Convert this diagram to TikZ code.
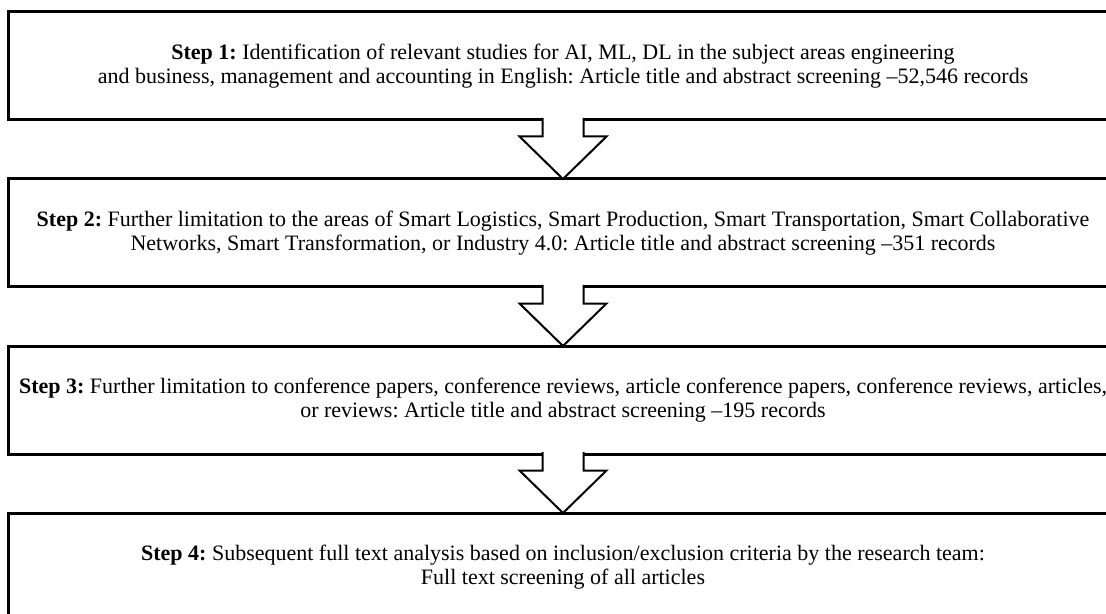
\documentclass[tikz,border=0pt]{standalone}
\usepackage{fontspec}
\setmainfont{Liberation Serif}
\usetikzlibrary{positioning, calc}
\tikzset{
	node distance=28pt,
	every text node part/.style= {
		align=center
	},
	stepbox/.style= {
		rectangle,
		black,
		draw,
		line width=1.5pt,
		minimum width=555pt,
		minimum height=54pt,
		inner sep=0pt,
		font=\fontsize{11}{11.8}\selectfont\frenchspacing
	},
	downarrow/.style= {
		black,
		draw,
		fill=white,
		line width=1pt,
		line join=miter
	}
}
% block arrow from the bottom of #1 to the top of #2
\newcommand{\stepArrow}[2]{%
	\draw[downarrow] ($(#1.south)+(-20.5,-3.5)$) -- ++(0,18.5) -- ++(-23,0)
		-- ($(#2.north)+(0,1.5)$) -- ($(#1.south)+(43.5,15)$) -- ++(-23,0)
		-- ($(#1.south)+(20.5,-3.5)$);
}

\begin{document}
\begin{tikzpicture}[x=0.5pt, y=-0.5pt]

	\clip (0,0) rectangle (1106,614);

	\node (step1)[stepbox] at (563,66) {\textbf{Step 1:} Identification of relevant studies for AI, ML, DL in the subject areas engineering\\
		and business, management and accounting in English: Article title and abstract screening –52,546 records};
	\node (step2)[stepbox, below= of step1] {\textbf{Step 2:} Further limitation to the areas of Smart Logistics, Smart Production, Smart Transportation, Smart Collaborative\\
		Networks, Smart Transformation, or Industry 4.0: Article title and abstract screening –351 records};
	\node (step3)[stepbox, below= of step2] {\textbf{Step 3:} Further limitation to conference papers, conference reviews, article conference papers, conference reviews, articles,\\
		or reviews: Article title and abstract screening –195 records};
	\node (step4)[stepbox, below= of step3] {\textbf{Step 4:} Subsequent full text analysis based on inclusion/exclusion criteria by the research team:\\
		Full text screening of all articles};

	\foreach[count=\i from 1] \j in {2,...,4}
	{
		\stepArrow{step\i}{step\j}
	}

\end{tikzpicture}
\end{document}
